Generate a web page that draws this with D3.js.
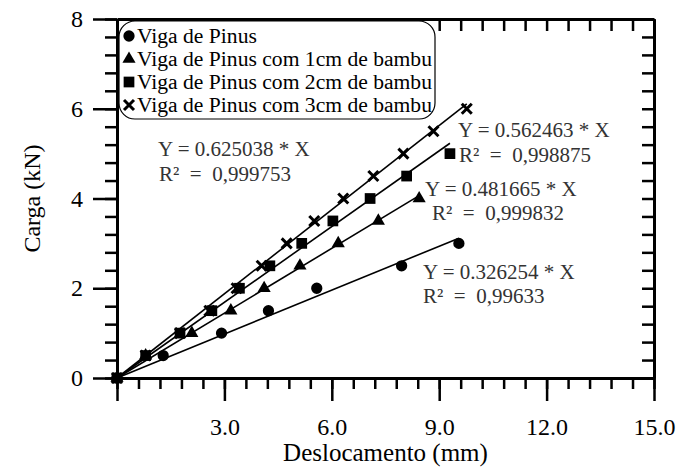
<!DOCTYPE html>
<html>
<head>
<meta charset="utf-8">
<script src="https://cdn.jsdelivr.net/npm/d3@7"></script>
<style>
    body { margin: 0; background: #fff; }
    svg { display: block; font-family: "Liberation Serif", "Times New Roman", serif; }
</style>
</head>
<body>
<svg width="691" height="467"></svg>
<script>
// Load x displacement data for each beam (mm) and load levels (kN)
var pinusX = [0, 1.29, 2.92, 4.23, 5.58, 7.95, 9.55];
var pinusY = [0, 0.5, 1.0, 1.5, 2.0, 2.5, 3.0];

var bambu1X = [0, 0.80, 2.09, 3.18, 4.11, 5.11, 6.18, 7.30, 8.44];
var bambu1Y = [0, 0.5, 1.0, 1.5, 2.0, 2.5, 3.0, 3.5, 4.0];

var bambu2X = [0, 0.80, 1.76, 2.65, 3.42, 4.27, 5.16, 6.03, 7.07, 8.09, 9.30];
var bambu2Y = [0, 0.5, 1.0, 1.5, 2.0, 2.5, 3.0, 3.5, 4.0, 4.5, 5.0];

var bambu3X = [0, 0.80, 1.76, 2.58, 3.34, 4.04, 4.74, 5.51, 6.32, 7.16, 8.00, 8.84, 9.77];
var bambu3Y = [0, 0.5, 1.0, 1.5, 2.0, 2.5, 3.0, 3.5, 4.0, 4.5, 5.0, 5.5, 6.0];

var seriesNames = [
    'Viga de Pinus',
    'Viga de Pinus com 1cm de bambu',
    'Viga de Pinus com 2cm de bambu',
    'Viga de Pinus com 3cm de bambu'
];

// Linear fit through origin for each series
var slopes = ['0.326254', '0.481665', '0.562463', '0.625038'];
var rSquared = ['0,99633', '0,999832', '0,998875', '0,999753'];

var xTicks = [0, 3, 6, 9, 12, 15];
var yTicks = [0, 2, 4, 6, 8];

(function () {
    "use strict";

    var svg = d3.select('svg');

    var x = d3.scaleLinear().domain([0, 15]).range([117, 654]);
    var y = d3.scaleLinear().domain([0, 8]).range([378, 19]);

    var minorX = d3.range(0, 15.0001, 0.6);
    var minorY = d3.range(0, 8.0001, 0.4);

    function styleAxis(g) {
        g.selectAll('.domain').attr('stroke', '#000').attr('stroke-width', 3);
        g.selectAll('.tick line').attr('stroke', '#000').attr('stroke-width', 2.5);
        g.selectAll('text')
            .attr('fill', '#000')
            .style('font-size', '24px')
            .style('font-family', '"Liberation Serif", "Times New Roman", serif');
    }

    // Minor ticks first so the frame sits on top
    svg.append('g')
        .attr('transform', 'translate(0,' + y(0) + ')')
        .call(d3.axisBottom(x).tickValues(minorX).tickSize(11).tickSizeOuter(0).tickFormat(''))
        .call(styleAxis);

    svg.append('g')
        .attr('transform', 'translate(' + x(0) + ',0)')
        .call(d3.axisLeft(y).tickValues(minorY).tickSize(12).tickSizeOuter(0).tickFormat(''))
        .call(styleAxis);

    // Top and right frame with inward ticks
    svg.append('g')
        .attr('transform', 'translate(0,' + y(8) + ')')
        .call(d3.axisTop(x).tickValues(minorX).tickSize(-12).tickSizeOuter(0).tickFormat(''))
        .call(styleAxis);

    svg.append('g')
        .attr('transform', 'translate(' + x(15) + ',0)')
        .call(d3.axisRight(y).tickValues(minorY).tickSize(-12).tickSizeOuter(0).tickFormat(''))
        .call(styleAxis);

    // Major ticks with labels
    svg.append('g')
        .attr('transform', 'translate(0,' + y(0) + ')')
        .call(d3.axisBottom(x).tickValues(xTicks).tickSize(23).tickSizeOuter(0).tickPadding(17)
            .tickFormat(function (d) { return d === 0 ? '' : d.toFixed(1); }))
        .call(styleAxis);

    svg.append('g')
        .attr('transform', 'translate(' + x(0) + ',0)')
        .call(d3.axisLeft(y).tickValues(yTicks).tickSize(24).tickSizeOuter(0).tickPadding(10)
            .tickFormat(d3.format('d')))
        .call(styleAxis);

    // Axis titles
    svg.append('text')
        .attr('x', (x(0) + x(15)) / 2)
        .attr('y', 461)
        .attr('text-anchor', 'middle')
        .style('font-size', '25px')
        .text('Deslocamento (mm)');

    svg.append('text')
        .attr('transform', 'translate(40,' + ((y(0) + y(8)) / 2) + ') rotate(-90)')
        .attr('text-anchor', 'middle')
        .style('font-size', '24px')
        .text('Carga (kN)');

    var series = [
        { xs: pinusX, ys: pinusY, marker: 'circle' },
        { xs: bambu1X, ys: bambu1Y, marker: 'triangle' },
        { xs: bambu2X, ys: bambu2Y, marker: 'square' },
        { xs: bambu3X, ys: bambu3Y, marker: 'cross' }
    ];

    function drawMarker(g, type, cx, cy) {
        if (type === 'cross') {
            var r = 5;
            g.append('path')
                .attr('d', 'M' + (cx - r) + ',' + (cy - r) + 'L' + (cx + r) + ',' + (cy + r) +
                    'M' + (cx - r) + ',' + (cy + r) + 'L' + (cx + r) + ',' + (cy - r))
                .attr('stroke', '#000')
                .attr('stroke-width', 3)
                .attr('fill', 'none');
            return;
        }
        var sym = type === 'circle' ? d3.symbol().type(d3.symbolCircle).size(100)
            : type === 'triangle' ? d3.symbol().type(d3.symbolTriangle).size(75)
            : d3.symbol().type(d3.symbolSquare).size(115);
        g.append('path')
            .attr('transform', 'translate(' + cx + ',' + cy + ')')
            .attr('d', sym())
            .attr('fill', '#000');
    }

    // Fit lines and data points
    series.forEach(function (s, index) {
        var xMax = d3.max(s.xs);
        var k = +slopes[index];
        svg.append('line')
            .attr('x1', x(0)).attr('y1', y(0))
            .attr('x2', x(xMax)).attr('y2', y(k * xMax))
            .attr('stroke', '#000')
            .attr('stroke-width', 1.6);

        var g = svg.append('g');
        s.xs.forEach(function (d, i) {
            drawMarker(g, s.marker, x(d), y(s.ys[i]));
        });
    });

    // Equation labels
    var notes = [
        { x: 423, y: 279, rx: 423, ry: 303 },
        { x: 425, y: 196, rx: 432, ry: 220 },
        { x: 458, y: 137, rx: 459, ry: 162 },
        { x: 158, y: 156, rx: 159, ry: 181 }
    ];
    notes.forEach(function (n, i) {
        svg.append('text')
            .attr('x', n.x).attr('y', n.y)
            .attr('fill', '#333')
            .style('font-size', '21px')
            .text('Y = ' + slopes[i] + ' * X');
        svg.append('text')
            .attr('x', n.rx).attr('y', n.ry)
            .attr('fill', '#333')
            .style('font-size', '21px')
            .style('white-space', 'pre')
            .text('R\u00B2  =  ' + rSquared[i]);
    });

    // Legend
    var legend = svg.append('g');
    legend.append('rect')
        .attr('x', 119).attr('y', 21)
        .attr('width', 316).attr('height', 98)
        .attr('rx', 16).attr('ry', 16)
        .attr('fill', '#fff')
        .attr('stroke', '#000')
        .attr('stroke-width', 1.2);

    seriesNames.forEach(function (name, i) {
        var base = 43 + i * 23;
        drawMarker(legend, series[i].marker, 129, base - 7);
        legend.append('text')
            .attr('x', 137).attr('y', base)
            .style('font-size', '21.6px')
            .text(name);
    });
})();
</script>
</body>
</html>
